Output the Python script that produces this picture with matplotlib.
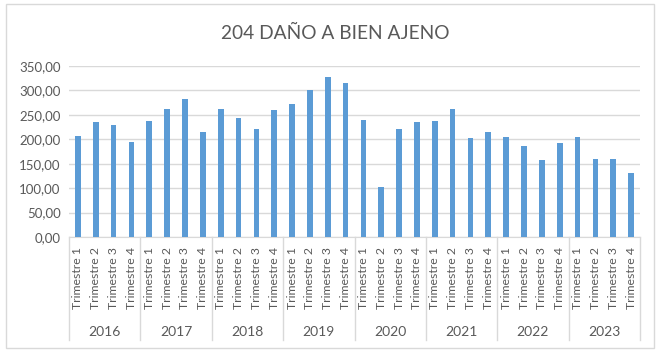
import numpy as np
import matplotlib.pyplot as plt
from matplotlib.transforms import blended_transform_factory
from matplotlib.patches import Rectangle

plt.rcParams['font.family'] = ['Lato', 'DejaVu Sans']

years = ["2016", "2017", "2018", "2019", "2020", "2021", "2022", "2023"]
quarters = ["Trimestre 1", "Trimestre 2", "Trimestre 3", "Trimestre 4"]
values = [207, 235, 229, 195,
          238, 263, 283, 215,
          261, 244, 221, 260,
          273, 300, 327, 315,
          240, 102, 221, 235,
          238, 263, 203, 214,
          205, 187, 157, 193,
          205, 160, 160, 131]

bar_color = "#5B9BD5"
grid_color = "#D9D9D9"
text_color = "#595959"

W, H = 659, 352
fig = plt.figure(figsize=(W / 100, H / 100), dpi=100)

# outer chart frame
fig.patches.append(Rectangle((6 / W, 4 / H), 648 / W, 344 / H, transform=fig.transFigure,
                             fill=False, edgecolor=grid_color, linewidth=1))

ax = fig.add_axes([69 / W, (H - 237) / H, 571 / W, 171 / H])
n = len(values)
x = np.arange(n)
ax.bar(x, values, width=0.32, color=bar_color, zorder=3)
ax.set_xlim(-0.5, n - 0.5)
ax.set_ylim(0, 350)
ax.set_yticks(np.arange(0, 351, 50))
ax.set_yticklabels([f"{v:.2f}".replace(".", ",") for v in np.arange(0, 351, 50)],
                   fontsize=9.5, color=text_color)
ax.tick_params(axis="y", length=0, pad=6)
ax.grid(axis="y", color=grid_color, linewidth=1, zorder=0)
for s in ["top", "right", "left"]:
    ax.spines[s].set_visible(False)
ax.spines["bottom"].set_color(grid_color)

ax.set_xticks(x)
ax.set_xticklabels(quarters * len(years), rotation=90, fontsize=8.8, color=text_color,
                   va="top")
ax.tick_params(axis="x", length=0, pad=7)

trans = blended_transform_factory(ax.transData, ax.transAxes)
depth = (340 - 237) / 171
for i in range(len(years) + 1):
    xb = i * 4 - 0.5
    ax.plot([xb, xb], [0, -depth], transform=trans, color=grid_color, linewidth=1,
            clip_on=False)
for i, yr in enumerate(years):
    ax.text(i * 4 + 1.5, -(332 - 237) / 171, yr, transform=trans, ha="center",
            va="center", fontsize=10, color=text_color)

fig.text(335 / W, 1 - 33 / H, "204 DAÑO A BIEN AJENO", ha="center", va="center",
         fontsize=13.8, color=text_color)

fig.savefig("out.png", dpi=100)
